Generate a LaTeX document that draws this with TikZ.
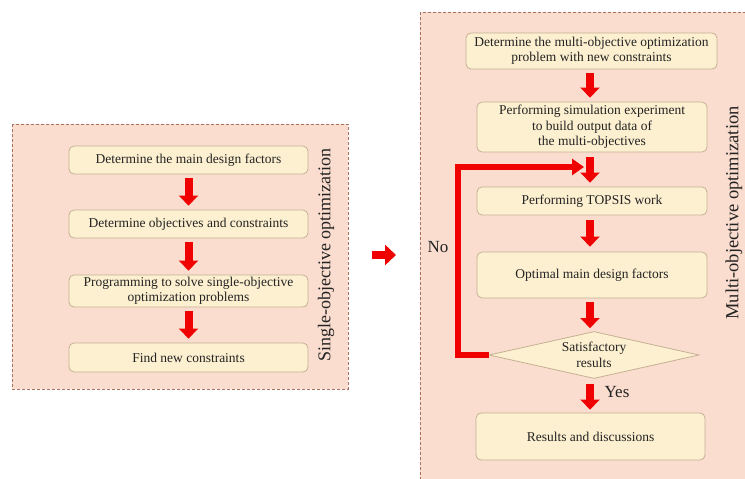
\documentclass[tikz,border=0pt]{standalone}
\usepackage{fontspec}
\setmainfont{Liberation Serif}
\usetikzlibrary{arrows.meta,shapes.geometric}
\definecolor{panel}{RGB}{250,221,207}
\definecolor{boxfill}{RGB}{253,240,208}
\definecolor{boxline}{RGB}{196,176,146}
\definecolor{dashc}{RGB}{165,115,95}
\definecolor{txt}{RGB}{35,35,35}
\definecolor{arr}{RGB}{240,0,0}
\begin{document}
\begin{tikzpicture}[x=1pt,y=-1pt,
  panelbox/.style={draw=dashc, dash pattern=on 3pt off 2pt, line width=0.9pt, fill=panel},
  stepbox/.style={draw=boxline, line width=0.8pt, fill=boxfill, rounded corners=5pt,
    text=txt, font=\fontsize{13.5}{15.5}\selectfont, align=center, inner sep=0pt},
  decbox/.style={diamond, draw=boxline, line width=0.8pt, fill=boxfill, aspect=4.47,
    text=txt, font=\fontsize{13.5}{15.5}\selectfont, align=center, inner sep=0pt,
    minimum width=210pt, minimum height=47pt},
  bigarrow/.style={draw=arr, line width=8pt, -{Triangle[width=19pt,length=10pt]}},
  fbarrow/.style={draw=arr, line width=5.5pt, line join=miter, -{Triangle[width=16pt,length=12pt]}},
  sidelabel/.style={rotate=90, text=txt, inner sep=0pt},
  yesno/.style={text=txt, font=\fontsize{17}{19}\selectfont, inner sep=0pt}
]
\useasboundingbox (0,0) rectangle (745,479);
\clip (0,0) rectangle (745,479);
\fill[white] (0,0) rectangle (745,479);

% panels
\draw[panelbox] (12,124) rectangle (348,389);
\draw[panelbox] (420,12) rectangle (770,500);

% left flow
\node[stepbox, minimum width=239pt, minimum height=28pt] (l1) at (188.5,160) {Determine the main design factors};
\node[stepbox, minimum width=239pt, minimum height=28pt] (l2) at (188.5,224) {Determine objectives and constraints};
\node[stepbox, minimum width=239pt, minimum height=32pt] (l3) at (188.5,291) {Programming to solve single-objective\\optimization problems};
\node[stepbox, minimum width=239pt, minimum height=29pt] (l4) at (188.5,357.5) {Find new constraints};

\draw[bigarrow] ([yshift=-4pt]l1.south) -- ([yshift=4pt]l2.north);
\draw[bigarrow] ([yshift=-4pt]l2.south) -- ([yshift=4pt]l3.north);
\draw[bigarrow] ([yshift=-4pt]l3.south) -- ([yshift=4pt]l4.north);

\node[sidelabel, font=\fontsize{18}{20}\selectfont] (sl) at (326,255) {Single-objective optimization};

% middle arrow
\coordinate (ma) at (372,255);
\coordinate (mb) at (396,255);
\draw[draw=arr, line width=8pt, -{Triangle[width=20pt,length=11pt]}] (ma) -- (mb);

% right flow
\node[stepbox, minimum width=251pt, minimum height=36pt] (r1) at (591.5,51) {Determine the multi-objective optimization\\problem with new constraints};
\node[stepbox, minimum width=230pt, minimum height=50pt] (r2) at (592,127) {Performing simulation experiment\\to build output data of\\the multi-objectives};
\node[stepbox, minimum width=230pt, minimum height=28pt] (r3) at (592,201) {Performing TOPSIS work};
\node[stepbox, minimum width=230pt, minimum height=46pt] (r4) at (592,275) {Optimal main design factors};
\node[decbox] (d) at (594,355) {Satisfactory\\results};
\node[stepbox, minimum width=229pt, minimum height=47pt] (r5) at (590.5,436.5) {Results and discussions};

\coordinate (a1) at (590,0);
\draw[bigarrow] ([yshift=-4pt]r1.south -| a1) -- ([yshift=4pt]r2.north -| a1);
\draw[bigarrow] ([yshift=-5pt]r2.south -| a1) -- ([yshift=4pt]r3.north -| a1);
\draw[bigarrow] ([yshift=-5pt]r3.south -| a1) -- ([yshift=5pt]r4.north -| a1);
\draw[bigarrow] ([yshift=-4pt]r4.south -| a1) -- ([yshift=3pt]d.north -| a1);
\draw[bigarrow] ([yshift=-5pt]d.south -| a1) -- ([yshift=3pt]r5.north -| a1);

% feedback loop
\coordinate (fbc) at (458,167);
\coordinate (fbe) at (584,167);
\draw[fbarrow] (d.west) -- (d.west -| fbc) -- (fbc) -- (fbe);

\node[yesno] (no) at (438,247) {No};
\node[yesno] (yes) at (617,392) {Yes};

\node[sidelabel, font=\fontsize{18.5}{20}\selectfont] (ml) at (734,213) {Multi-objective optimization};
\end{tikzpicture}
\end{document}
